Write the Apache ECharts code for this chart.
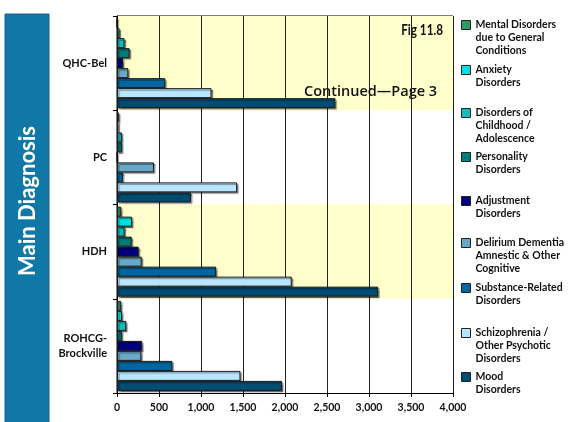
<!DOCTYPE html>
<html>
<head>
<meta charset="utf-8">
<style>
  html, body { margin: 0; padding: 0; background: #fff; }
  #chart { width: 569px; height: 422px; }
</style>
<script src="https://cdn.jsdelivr.net/npm/echarts@6/dist/echarts.min.js"></script>
</head>
<body>
<div id="chart"></div>
<script>
// Hospitals (top to bottom)
const categories = ['QHC-Bel', 'PC', 'HDH', 'ROHCG-\nBrockville'];

// Diagnosis groups, in the order the bars are stacked inside each hospital band
const seriesNames = [
  'Mental Disorders due to General Conditions',
  'Anxiety Disorders',
  'Disorders of Childhood / Adolescence',
  'Personality Disorders',
  'Adjustment Disorders',
  'Delirium Dementia Amnestic & Other Cognitive',
  'Substance-Related Disorders',
  'Schizophrenia / Other Psychotic Disorders',
  'Mood Disorders'
];
const legendLabels = [
  'Mental Disorders\ndue to General\nConditions',
  'Anxiety\nDisorders',
  'Disorders of\nChildhood /\nAdolescence',
  'Personality\nDisorders',
  'Adjustment\nDisorders',
  'Delirium Dementia\nAmnestic & Other\nCognitive',
  'Substance-Related\nDisorders',
  'Schizophrenia /\nOther Psychotic\nDisorders',
  'Mood\nDisorders'
];

// Values per hospital: QHC-Bel, PC, HDH, ROHCG-Brockville
const mentalGeneral = [0, 22, 50, 50];
const anxiety       = [30, 18, 180, 60];
const childhood     = [90, 58, 90, 110];
const personality   = [150, 58, 175, 58];
const adjustment    = [72, 0, 258, 300];
const delirium      = [135, 440, 295, 290];
const substance     = [575, 70, 1180, 660];
const schizophrenia = [1125, 1430, 2080, 1470];
const mood          = [2600, 880, 3110, 1965];

const seriesValues = [mentalGeneral, anxiety, childhood, personality, adjustment,
                      delirium, substance, schizophrenia, mood];
const seriesColors = ['#339966', '#00e0e0', '#16bcbc', '#007c7c', '#000080',
                      '#6aa8c8', '#0066a0', '#b8e6ff', '#004c73'];

// Value axis ticks
const xMin = 0, xMax = 4000, xStep = 500;

// Vertical centre of each legend swatch
const legendCenters = [25, 70, 113, 157, 201, 243, 288, 333, 377];

const font = 'Lato, "Open Sans", sans-serif';
const LINE = 13;     // legend line height
const SW = 9;        // legend swatch size

const chart = echarts.init(document.getElementById('chart'), null, { renderer: 'canvas' });

const series = seriesNames.map((name, i) => ({
  name: name,
  type: 'bar',
  data: seriesValues[i],
  barWidth: 10,
  barGap: '0%',
  itemStyle: {
    color: seriesColors[i],
    borderColor: '#1a1a1a',
    borderWidth: 1,
    shadowColor: 'rgba(0,0,0,0.45)',
    shadowBlur: 1,
    shadowOffsetX: 1.5,
    shadowOffsetY: 1.5
  },
  emphasis: { disabled: true },
  animation: false
}));

// One legend per entry: the swatch sits beside the first text line, so the
// icon box is made as tall as needed and the square is drawn at its top.
const legends = seriesNames.map((name, i) => {
  const lines = legendLabels[i].split('\n').length;
  const h = SW + LINE * (lines - 1);
  return {
    data: [name],
    orient: 'vertical',
    left: 461,
    top: legendCenters[i] - 6.5,
    padding: 0,
    icon: 'path://M0,0H' + SW + 'V' + SW + 'H0Z M0,' + h + 'L0,' + h,
    itemWidth: SW,
    itemHeight: h,
    selectedMode: false,
    formatter: () => legendLabels[i],
    itemStyle: {
      borderColor: '#222',
      borderWidth: 1,
      shadowBlur: 0,
      shadowOffsetX: 0,
      shadowOffsetY: 0,
      shadowColor: 'transparent'
    },
    textStyle: {
      fontFamily: font,
      fontWeight: 'bold',
      fontSize: 10.5,
      lineHeight: LINE,
      color: '#111'
    }
  };
});

chart.setOption({
  animation: false,
  backgroundColor: '#fff',
  grid: {
    left: 117, right: 116, top: 16, bottom: 29,
    show: true,
    borderColor: '#000',
    borderWidth: 1,
    backgroundColor: 'transparent'
  },
  xAxis: {
    type: 'value',
    min: xMin, max: xMax, interval: xStep,
    axisLine: { show: true, lineStyle: { color: '#000', width: 1 } },
    axisTick: { show: true, length: 4, lineStyle: { color: '#000' } },
    splitLine: { show: true, lineStyle: { color: '#222', width: 1 } },
    axisLabel: {
      margin: 9,
      fontFamily: font, fontWeight: 'bold', fontSize: 10.5, color: '#111',
      formatter: v => v.toLocaleString('en-US')
    }
  },
  yAxis: {
    type: 'category',
    data: categories,
    inverse: true,
    axisLine: { show: true, lineStyle: { color: '#000', width: 1 } },
    axisTick: { show: true, length: 4, lineStyle: { color: '#000' } },
    splitLine: { show: false },
    splitArea: { show: true, areaStyle: { color: ['#ffffcc', '#ffffff'] } },
    axisLabel: {
      margin: 10,
      fontFamily: font, fontWeight: 'bold', fontSize: 11, lineHeight: 15,
      color: '#111', align: 'right'
    }
  },
  legend: legends,
  series: series,
  graphic: [
    {
      type: 'rect',
      shape: { x: 5, y: 14, width: 44, height: 420 },
      style: { fill: '#0f78a6', stroke: '#1d5f8a', lineWidth: 1 },
      silent: true
    },
    {
      type: 'text',
      x: 28, y: 201,
      rotation: Math.PI / 2,
      style: {
        text: 'Main Diagnosis',
        fill: '#fff',
        font: 'bold 22px ' + font,
        align: 'center',
        verticalAlign: 'middle'
      },
      silent: true
    },
    {
      type: 'text',
      x: 443, y: 30,
      scaleX: 0.78,
      z: 10,
      style: {
        text: 'Fig 11.8',
        fill: '#111',
        font: 'bold 15px ' + font,
        align: 'right',
        verticalAlign: 'middle'
      },
      silent: true
    },
    {
      type: 'text',
      x: 304, y: 92,
      z: 10,
      style: {
        text: 'Continued\u2014Page 3',
        fill: '#111',
        font: '600 14.5px "Open Sans", sans-serif',
        align: 'left',
        verticalAlign: 'middle'
      },
      silent: true
    }
  ]
});
</script>
</body>
</html>
